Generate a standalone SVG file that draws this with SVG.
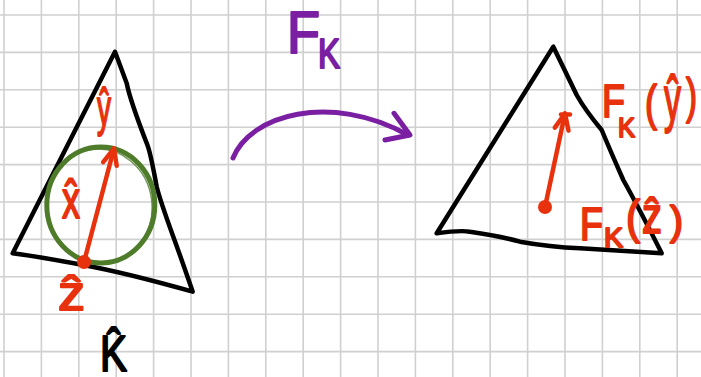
<svg xmlns="http://www.w3.org/2000/svg" width="701" height="377" viewBox="0 0 701 377">
<defs>
<style>
.grid{fill:none;stroke:#d0d0d0;stroke-width:1.6}
.edge{fill:none;stroke:#000;stroke-width:4.5;stroke-linejoin:round;stroke-linecap:round}
.red{fill:#e8320e;stroke:#e8320e;stroke-width:2;stroke-linejoin:round;font-family:"Liberation Sans",Arial,sans-serif}
.blk{fill:#000;stroke:#000;stroke-width:2;stroke-linejoin:round;font-family:"Liberation Sans",Arial,sans-serif}
.pur{fill:#7b1fa2;stroke:#7b1fa2;stroke-width:2.2;stroke-linejoin:round;font-family:"Liberation Sans",Arial,sans-serif}
.redline{fill:none;stroke:#e8320e;stroke-width:4.5;stroke-linecap:round;stroke-linejoin:round}
.purline{fill:none;stroke:#7b1fa2;stroke-width:5;stroke-linecap:round;stroke-linejoin:round}
.dot{fill:#e8320e}
.circ{fill:none;stroke:#4f7c2a;stroke-linecap:round}
</style>
<marker id="chev" markerUnits="userSpaceOnUse" markerWidth="40" markerHeight="40" viewBox="-20 -20 40 40" refX="0" refY="0" orient="auto" overflow="visible">
<path d="M-16,-7 L0,0 L-16,7" fill="none" stroke="#e8320e" stroke-width="4.5" stroke-linecap="round" stroke-linejoin="round"/>
</marker>
</defs>
<rect width="701" height="377" fill="#fff"/>
<path class="grid" d="M4,0V377M41.4,0V377M78.8,0V377M116.2,0V377M153.6,0V377M191,0V377M228.4,0V377M265.8,0V377M303.2,0V377M340.6,0V377M378,0V377M415.4,0V377M452.8,0V377M490.2,0V377M527.6,0V377M565,0V377M602.4,0V377M639.8,0V377M677.2,0V377M0,15H701M0,52.4H701M0,89.8H701M0,127.2H701M0,164.6H701M0,202H701M0,239.4H701M0,276.8H701M0,314.2H701M0,351.6H701"/>

<g id="reference-element">
<path class="edge" d="M115,51.7 L12.7,253.3 Q40,257 83.3,265 T192.7,291.7 Q180,255 173.3,236.7 Q160,200 156.7,186.7 Q150,150 146.7,143.3 Q130,100 126.7,83.3 Z"/>
<ellipse class="circ" cx="100.8" cy="205" rx="54" ry="58" stroke-width="5"/>
<ellipse class="circ" cx="99.5" cy="206" rx="52.5" ry="57" stroke-width="1.5" transform="rotate(-8 100 206)" opacity="0.8"/>
<circle class="dot" cx="84" cy="262" r="7"/>
<text class="red" x="97" y="125" font-size="52" textLength="14" lengthAdjust="spacingAndGlyphs">ŷ</text>
<text class="red" x="62" y="218" font-size="54" textLength="18" lengthAdjust="spacingAndGlyphs">x̂</text>
<text class="red" x="58" y="310" font-size="48" textLength="27" lengthAdjust="spacingAndGlyphs">ẑ</text>
<text class="blk" x="100" y="371" font-size="50" textLength="27" lengthAdjust="spacingAndGlyphs">K̂</text>
</g>

<g id="physical-element">
<path class="edge" d="M553.3,46.7 L436.7,233.3 Q460,230 470,231.7 Q500,236 520,241.7 Q550,247 580,248.3 L661.7,253.3 Q640,210 623.3,180 Q610,150 601.7,130 Q585,110 576.7,95 Z"/>
<circle class="dot" cx="545" cy="207" r="7"/>
<path class="redline" d="M561,114.5 L570,114.5"/>
<text class="red"><tspan x="602" y="117" font-size="47" textLength="23" lengthAdjust="spacingAndGlyphs">F</tspan><tspan x="618" y="137" font-size="28" textLength="17" lengthAdjust="spacingAndGlyphs">K</tspan><tspan x="645" y="120" font-size="50" textLength="12" lengthAdjust="spacingAndGlyphs">(</tspan><tspan x="664" y="120" font-size="63" textLength="17" lengthAdjust="spacingAndGlyphs">ŷ</tspan><tspan x="686" y="113" font-size="50" textLength="11" lengthAdjust="spacingAndGlyphs">)</tspan></text>
<text class="red"><tspan x="580" y="240" font-size="46" textLength="23" lengthAdjust="spacingAndGlyphs">F</tspan><tspan x="604" y="247" font-size="28" textLength="19" lengthAdjust="spacingAndGlyphs">K</tspan><tspan x="626" y="233" font-size="46" textLength="14" lengthAdjust="spacingAndGlyphs">(</tspan><tspan x="642" y="233" font-size="50" textLength="20" lengthAdjust="spacingAndGlyphs">ẑ</tspan><tspan x="670" y="235" font-size="40" textLength="13" lengthAdjust="spacingAndGlyphs">)</tspan></text>
</g>

<g id="map-label">
<text class="pur"><tspan x="287" y="53" font-size="60" textLength="33" lengthAdjust="spacingAndGlyphs">F</tspan><tspan x="318" y="68" font-size="42" textLength="22" lengthAdjust="spacingAndGlyphs">K</tspan></text>
</g>

<g id="connectors">
<line class="redline" x1="84" y1="262" x2="114" y2="148.5" marker-end="url(#chev)"/>
<line class="redline" x1="545" y1="207" x2="565" y2="113.5" marker-end="url(#chev)"/>
<path class="purline" d="M233,158 C250,115 330,92 408,135"/>
<path class="purline" d="M394,113.3 L410,135 L385,140"/>
</g>
</svg>
